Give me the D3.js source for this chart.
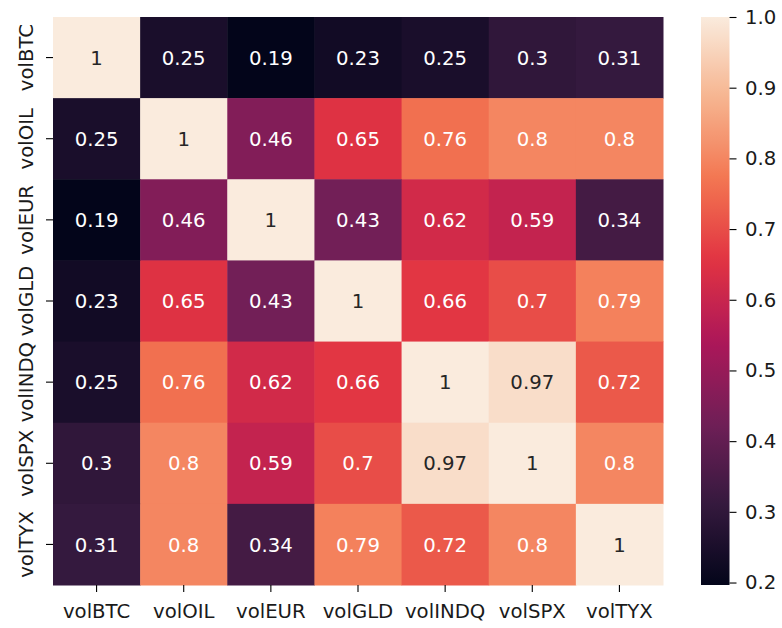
<!DOCTYPE html>
<html>
<head>
<meta charset="utf-8">
<script src="https://cdn.jsdelivr.net/npm/d3@7"></script>
<style>
  html, body { margin: 0; padding: 0; background: #fff; }
  svg { display: block; }
  text { font-family: "DejaVu Sans", sans-serif; }
</style>
</head>
<body>
<svg id="chart" width="782" height="628"></svg>
<script>
// ---- data ----
const labels = ["volBTC", "volOIL", "volEUR", "volGLD", "volINDQ", "volSPX", "volTYX"];
const rowBTC  = [1, 0.25, 0.19, 0.23, 0.25, 0.30, 0.31];
const rowOIL  = [0.25, 1, 0.46, 0.65, 0.76, 0.80, 0.80];
const rowEUR  = [0.19, 0.46, 1, 0.43, 0.62, 0.59, 0.34];
const rowGLD  = [0.23, 0.65, 0.43, 1, 0.66, 0.70, 0.79];
const rowINDQ = [0.25, 0.76, 0.62, 0.66, 1, 0.97, 0.72];
const rowSPX  = [0.30, 0.80, 0.59, 0.70, 0.97, 1, 0.80];
const rowTYX  = [0.31, 0.80, 0.34, 0.79, 0.72, 0.80, 1];
const matrix = [rowBTC, rowOIL, rowEUR, rowGLD, rowINDQ, rowSPX, rowTYX];
const colorbarTicks = [0.2, 0.3, 0.4, 0.5, 0.6, 0.7, 0.8, 0.9, 1.0];
const vmin = 0.1965, vmax = 1.0;

// rocket colormap anchors
const rocketT = [0, 1/7, 2/7, 3/7, 4/7, 5/7, 6/7, 1];
const rocketC = ["#03051a", "#35193e", "#701f57", "#ad1759", "#e13342", "#f37651", "#f6b48f", "#faebdd"];

const svg = d3.select("#chart");
svg.append("rect").attr("width", 782).attr("height", 628).attr("fill", "#fff");

const L = 53, R = 663, T = 17, B = 585;
const x = d3.scaleBand().domain(labels).range([L, R]);
const y = d3.scaleBand().domain(labels).range([T, B]);
const color = d3.scaleLinear()
  .domain(rocketT.map(t => vmin + t * (vmax - vmin)))
  .range(rocketC)
  .interpolate(d3.interpolateRgb)
  .clamp(true);

function lum(c) {
  const rgb = d3.rgb(c);
  const f = v => { v /= 255; return v <= 0.03928 ? v / 12.92 : Math.pow((v + 0.055) / 1.055, 2.4); };
  return 0.2126 * f(rgb.r) + 0.7152 * f(rgb.g) + 0.0722 * f(rgb.b);
}

const cells = [];
matrix.forEach((row, i) => row.forEach((v, j) => cells.push({ r: labels[i], c: labels[j], v })));

const FS = 19.7;
const TXT = "#1a1a1a";

svg.append("g").selectAll("rect").data(cells).join("rect")
  .attr("x", d => x(d.c))
  .attr("y", d => y(d.r))
  .attr("width", x.bandwidth() + 0.5)
  .attr("height", y.bandwidth() + 0.5)
  .attr("fill", d => color(d.v));

svg.append("g").selectAll("text").data(cells).join("text")
  .attr("x", d => x(d.c) + x.bandwidth() / 2)
  .attr("y", d => y(d.r) + y.bandwidth() / 2)
  .attr("dy", "0.36em")
  .attr("text-anchor", "middle")
  .attr("font-size", FS)
  .attr("fill", d => lum(color(d.v)) > 0.408 ? "#262626" : "#ffffff")
  .text(d => d3.format("")(+d.v.toFixed(2)));

// x axis
const xAxis = svg.append("g").attr("transform", `translate(0,${B})`)
  .call(d3.axisBottom(x).tickSize(7).tickPadding(0));
xAxis.select(".domain").remove();
xAxis.selectAll(".tick line").attr("stroke", "#000").attr("stroke-width", 1.1);
xAxis.selectAll(".tick text").attr("y", 33.3).attr("dy", 0)
  .attr("font-size", FS).attr("fill", TXT).attr("font-family", "DejaVu Sans");

// y axis
const yAxis = svg.append("g").attr("transform", `translate(${L},0)`)
  .call(d3.axisLeft(y).tickSize(7).tickPadding(0));
yAxis.select(".domain").remove();
yAxis.selectAll(".tick line").attr("stroke", "#000").attr("stroke-width", 1.1);
yAxis.selectAll(".tick text").attr("x", 0).attr("dy", 0)
  .attr("text-anchor", "middle")
  .attr("transform", "translate(-19.7,0) rotate(-90)")
  .attr("font-size", FS).attr("fill", TXT).attr("font-family", "DejaVu Sans");

// colorbar
const CL = 701, CR = 729.5;
const cy = d3.scaleLinear().domain([vmin, vmax]).range([B, T]);
const defs = svg.append("defs");
const grad = defs.append("linearGradient").attr("id", "cbgrad")
  .attr("x1", 0).attr("y1", 1).attr("x2", 0).attr("y2", 0);
d3.range(0, 1.0001, 0.02).forEach(t => {
  grad.append("stop").attr("offset", t).attr("stop-color", color(vmin + t * (vmax - vmin)));
});
svg.append("rect").attr("x", CL).attr("y", T).attr("width", CR - CL).attr("height", B - T)
  .attr("fill", "url(#cbgrad)");
const cAxis = svg.append("g").attr("transform", `translate(${CR},0)`)
  .call(d3.axisRight(cy).tickValues(colorbarTicks).tickFormat(d3.format(".1f")).tickSize(7).tickPadding(8.5));
cAxis.select(".domain").remove();
cAxis.selectAll(".tick line").attr("stroke", "#000").attr("stroke-width", 1.1);
cAxis.selectAll(".tick text").attr("font-size", FS).attr("fill", TXT).attr("font-family", "DejaVu Sans");
</script>
</body>
</html>
